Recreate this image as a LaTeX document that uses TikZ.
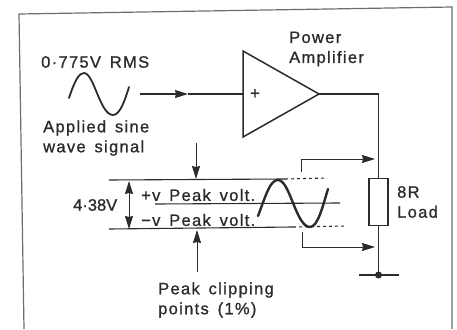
\documentclass[tikz,border=0pt]{standalone}
\usepackage{fontspec}
\setmainfont{Liberation Sans}
\newfontfamily\labelfont[LetterSpace=8, FakeBold=1, WordSpace=1.5]{Liberation Sans}
\newfontfamily\tightfont[FakeBold=1]{Liberation Sans}
\usetikzlibrary{arrows.meta, positioning, shapes.geometric}
\definecolor{inkgray}{HTML}{2B2B2B}
\definecolor{framegray}{HTML}{6E6E68}

\begin{document}
\begin{tikzpicture}[x=1pt, y=-1pt, every node/.style={text=inkgray},
  caption/.style={font=\labelfont\fontsize{16.5}{20}\selectfont, align=left, inner sep=0pt, anchor=west},
  tightcaption/.style={caption, font=\tightfont\fontsize{16.5}{20}\selectfont},
  wire/.style={draw=inkgray, line width=1.7pt},
  thinwire/.style={draw=inkgray, line width=1pt},
  arrow/.style={thinwire, -{Stealth[length=13pt, width=8pt, inset=1pt]}},
  sine/.style={draw=inkgray, line width=1.8pt, line cap=round},
  clipline/.style={draw=inkgray, line width=1.1pt},
]
\useasboundingbox (0,0) rectangle (457,329);

% Frame
\coordinate (frametl) at (19,14);
\coordinate (frametr) at (452,7);
\coordinate (framebl) at (24,329);
\coordinate (framebr) at (452,329);
\draw[draw=framegray, line width=1.2pt] (framebl) -- (frametl) -- (frametr) -- (framebr);

% Input signal
\node[caption] (rms) at (41,62) {0·775V RMS};
\node[caption] (applied) at (43,138) {Applied sine\\wave signal};
\draw[sine] (69,98) .. controls (75,80) and (79,73) .. (84,73)
  .. controls (94,73) and (100,115) .. (113,115)
  .. controls (120,115) and (125,100) .. (129,87);

% Amplifier
\node[draw=inkgray, line width=1.5pt, isosceles triangle, isosceles triangle stretches, minimum width=86pt, minimum height=76pt, inner sep=0pt, outer sep=0pt, anchor=apex] (amp) at (319,94) {};
\node[font=\labelfont\fontsize{16.5}{16}\selectfont, inner sep=0pt] (plus) at (255,94) {+};
\node[caption] (power) at (289,49) {Power\\Amplifier};

% Load
\node[draw=inkgray, line width=1.5pt, minimum width=19pt, minimum height=47pt, inner sep=0pt] (load) at (378.5,202) {};
\node[caption] (loadlabel) at (397,202) {8R\\Load};
\coordinate (corner) at (load.north |- amp.apex);
\coordinate (earth) at (378.5,275);
\coordinate (earthl) at (359,275);
\coordinate (earthr) at (399,275);

% Wires
\coordinate (instart) at (140,94);
\coordinate (inmid) at (188,94);
\draw[arrow, line width=1.5pt] (instart) -- (inmid);
\draw[wire] (inmid) -- (amp.lower side);
\draw[wire] (amp.apex) -- (corner) -- (load.north);
\draw[wire] (load.south) -- (earth);
\draw[wire] (earthl) -- (earthr);
\fill[inkgray] (earth) circle (3.5pt);

% Peak levels
\coordinate (topl) at (109,180);
\coordinate (topm) at (285,179);
\coordinate (topr) at (327,178);
\coordinate (midl) at (155,204);
\coordinate (midr) at (340,203);
\coordinate (lowl) at (109,229);
\coordinate (lowm) at (293,227);
\coordinate (lowr) at (346,226);
\draw[clipline] (topl) -- (topm);
\draw[clipline, dashed] (topm) -- (topr);
\draw[clipline] (midl) -- (midr);
\draw[clipline] (lowl) -- (lowm);
\draw[clipline, dashed] (lowm) -- (lowr);

% Clipped sine
\draw[sine, line width=2.4pt] (258,216) .. controls (266,195) and (270,180) .. (278,180)
  .. controls (290,180) and (296,227) .. (310,227)
  .. controls (318,227) and (323,205) .. (328,189);

% Level labels
\node[caption] (plusv) at (141,195) {+v Peak volt.};
\node[caption] (minusv) at (141,220) {−v Peak volt.};
\node[tightcaption] (dimlabel) at (73,205) {4·38V};
\node[caption] (clipping) at (158,300) {Peak clipping\\points (1\%)};

% Dimension and clip arrows
\coordinate (dimtop) at (129,181);
\coordinate (dimlow) at (129,229);
\coordinate (dimmid) at (129,205);
\draw[arrow] (dimmid) -- (dimtop);
\draw[arrow] (dimmid) -- (dimlow);
\coordinate (clipdownst) at (196,143);
\coordinate (clipdownen) at (196,179);
\coordinate (clipupst) at (197,272);
\coordinate (clipupen) at (197,230);
\draw[arrow] (clipdownst) -- (clipdownen);
\draw[arrow] (clipupst) -- (clipupen);

% Feedback to load
\coordinate (uppst) at (301,172);
\coordinate (uppen) at (375,159);
\coordinate (lowst) at (302,232);
\coordinate (lowen) at (375,247);
\draw[arrow] (uppst) |- (uppen);
\draw[arrow] (lowst) |- (lowen);

\end{tikzpicture}
\end{document}
